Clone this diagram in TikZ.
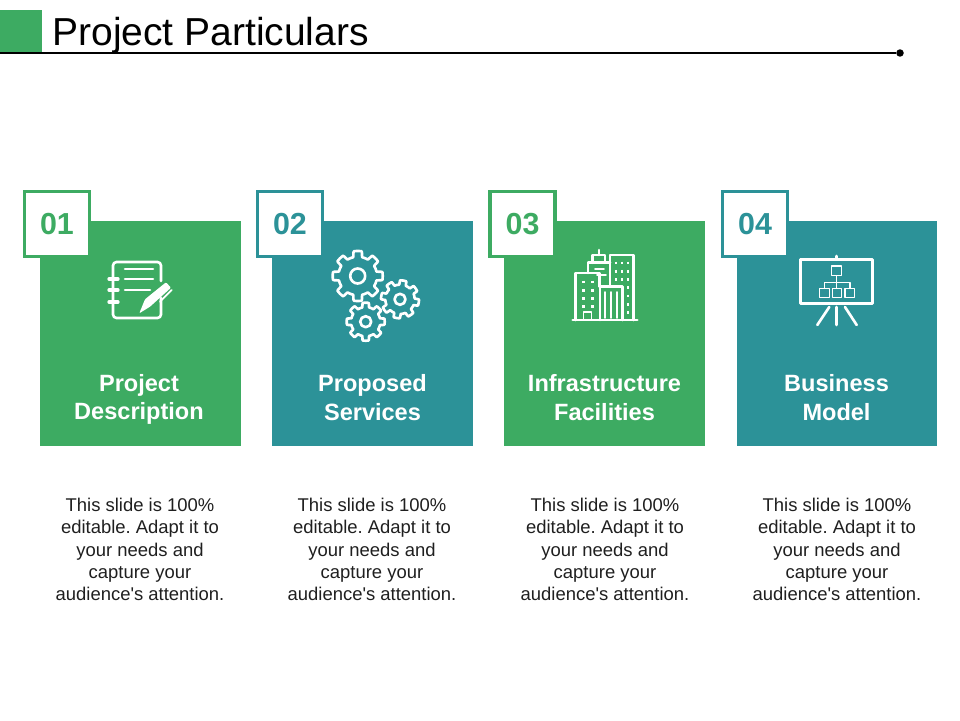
\documentclass[tikz,border=0pt]{standalone}
\usepackage{fontspec}
\setmainfont{Liberation Sans}
\frenchspacing
\usepackage{color}
\definecolor{projGreen}{RGB}{61,171,98}
\definecolor{projTeal}{RGB}{44,146,152}
\usetikzlibrary{arrows.meta, calc}
% one px of the slide is 0.02cm
\newcommand{\gearicon}[5]{%
\draw[iconline, domain=0:360, samples=241] plot ({#1+(#3)*(0.77+0.23*max(0,min(1,0.5+2.2*cos(8*(\x-#4)))))*cos(\x)}, {#2+(#3)*(0.77+0.23*max(0,min(1,0.5+2.2*cos(8*(\x-#4)))))*sin(\x)}) -- cycle;
\draw[iconline] (#1,#2) circle (#5);
}
\tikzset{
  cardbox/.style={minimum width=4.02cm, minimum height=4.5cm, inner sep=0pt},
  badgebox/.style={draw, fill=white, line width=1.9pt, minimum width=1.3cm, minimum height=1.3cm, inner sep=0pt, font=\fontsize{17.3}{20}\selectfont\bfseries},
  headtext/.style={text=white, align=center, font=\fontsize{13.4}{16.4}\selectfont\bfseries},
  bodytext/.style={text=black!88, align=center, font=\fontsize{10.5}{12.7}\selectfont},
  iconline/.style={draw=white, line width=1.5pt, line join=round, line cap=round},
  windowdots/.style={draw=white, line width=1.4pt, dash pattern=on 1.6pt off 3.1pt},
}

\begin{document}
\begin{tikzpicture}[x=0.02cm, y=-0.02cm]
\useasboundingbox (0,0) rectangle (960,720);

% Title bar
\fill[projGreen] (0,10) rectangle (42,53);
\node[anchor=base west, inner sep=0pt, font=\fontsize{22.2}{26}\selectfont] (titleText) at (52,45) {Project Particulars};
\coordinate (ruleStart) at (0,53);
\node[circle, fill=black, minimum size=0.15cm, inner sep=0pt] (ruleDot) at (900,53) {};
\draw[line width=0.6pt] (ruleStart) -- (ruleDot);

% Cards
\node[cardbox, fill=projGreen] (cardA) at (140.5,333.5) {};
\node[cardbox, fill=projTeal] (cardB) at (372.5,333.5) {};
\node[cardbox, fill=projGreen] (cardC) at (604.5,333.5) {};
\node[cardbox, fill=projTeal] (cardD) at (837,333.5) {};

% Number badges
\node[badgebox, draw=projGreen, text=projGreen] (badgeA) at (57,224) {01};
\node[badgebox, draw=projTeal, text=projTeal] (badgeB) at (290,224) {02};
\node[badgebox, draw=projGreen, text=projGreen] (badgeC) at (522.5,224) {03};
\node[badgebox, draw=projTeal, text=projTeal] (badgeD) at (755,224) {04};

% Card headings
\node[headtext] (headA) at (139,399.5) {Project\\Description};
\node[headtext] (headB) at (372.5,397.5) {Proposed\\Services};
\node[headtext] (headC) at (604.5,397.5) {Infrastructure\\Facilities};
\node[headtext] (headD) at (836.5,397.5) {Business\\Model};

% Body texts
\node[bodytext] (bodyA) at (140,549.5) {This slide is 100\%\\editable. Adapt it to\\your needs and\\capture your\\audience\textquotesingle s attention.};
\node[bodytext] (bodyB) at (372,549.5) {This slide is 100\%\\editable. Adapt it to\\your needs and\\capture your\\audience\textquotesingle s attention.};
\node[bodytext] (bodyC) at (605,549.5) {This slide is 100\%\\editable. Adapt it to\\your needs and\\capture your\\audience\textquotesingle s attention.};
\node[bodytext] (bodyD) at (837,549.5) {This slide is 100\%\\editable. Adapt it to\\your needs and\\capture your\\audience\textquotesingle s attention.};

% Notebook icon
\draw[iconline, rounded corners=2pt] (161,281) -- (161,262) -- (113,262) -- (113,318) -- (161,318) -- (161,298);
\draw[iconline] (125,269) -- (153,269);
\draw[iconline] (125,279) -- (153,279);
\draw[iconline] (125,290) -- (150,290);
\draw[iconline, line width=1.9pt] (109,279) -- (118,279);
\draw[iconline, line width=1.9pt] (109,290) -- (118,290);
\draw[iconline, line width=1.9pt] (109,302) -- (118,302);
\fill[white, rounded corners=0.6pt] (139.3,313.3) -- (145,299.3) -- (166,282.3) -- (171,287.7) -- (150,306.7) -- cycle;
\draw[iconline, line width=1pt] (160,301.7) -- (171.7,290);

% Gears icon
\gearicon{357.7}{276}{25}{0}{7.5}
\gearicon{400}{299.3}{19}{10}{5.5}
\gearicon{365.7}{321.7}{19}{0}{5.5}

% Buildings icon
\draw[iconline] (572.7,320) -- (637.3,320);
\draw[iconline] (575.7,320) -- (575.7,273) -- (599.3,273) -- (599.3,286.7);
\draw[iconline] (588,273) -- (588,262.7) -- (610,262.7);
\draw[iconline] (592.3,262.7) -- (592.3,255) -- (605,255) -- (605,262.7);
\draw[iconline] (599,250) -- (599,255);
\draw[iconline] (610,286.7) -- (610,255) -- (633.3,255) -- (633.3,320);
\draw[iconline] (600,320) -- (600,286.7) -- (622.3,286.7) -- (622.3,320);
\draw[iconline, line width=1pt] (595,269.3) -- (604,269.3);
\draw[iconline, line width=1pt] (597,275) -- (606,275);
\draw[iconline, line width=1pt] (605,292) -- (605,318);
\draw[iconline, line width=1pt] (611,292) -- (611,318);
\draw[iconline, line width=1pt] (617,292) -- (617,318);
\draw[iconline, line width=1pt] (583.5,320) -- (583.5,312) -- (591.5,312) -- (591.5,320);
\draw[windowdots] (583.3,280.5) -- (583.3,309);
\draw[windowdots] (592.3,280.5) -- (592.3,309);
\draw[windowdots] (616,261.5) -- (616,281);
\draw[windowdots] (622,261.5) -- (622,281);
\draw[windowdots] (628,261.5) -- (628,314);

% Presentation board icon
\draw[iconline, line width=1.7pt] (800.7,259.3) rectangle (872.7,303.3);
\draw[iconline] (836.7,256) -- (836.7,259.3);
\draw[iconline] (836.7,307) -- (836.7,325);
\draw[iconline] (829.3,307) -- (817.3,325);
\draw[iconline] (845,307) -- (856.7,325);
\draw[iconline, line width=0.8pt] (831.7,266) rectangle (841.7,275.7);
\draw[iconline, line width=0.8pt] (819.3,288.3) rectangle (829.3,297.3);
\draw[iconline, line width=0.8pt] (832.3,288.3) rectangle (841.7,297.3);
\draw[iconline, line width=0.8pt] (845,288.3) rectangle (854.3,297.3);
\draw[iconline, line width=0.8pt] (836.7,275.7) -- (836.7,288.3);
\draw[iconline, line width=0.8pt] (824.3,288.3) -- (824.3,282.3) -- (850,282.3) -- (850,288.3);
\end{tikzpicture}
\end{document}
